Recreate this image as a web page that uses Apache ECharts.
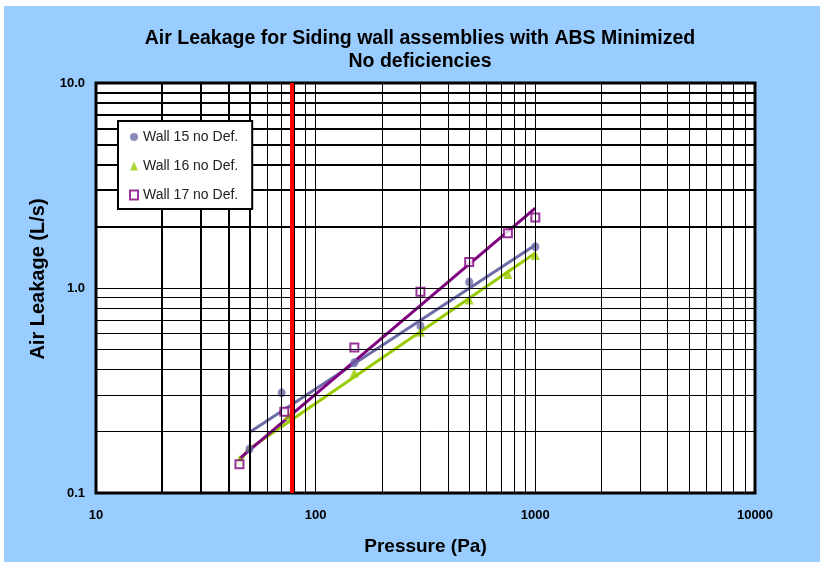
<!DOCTYPE html>
<html>
<head>
<meta charset="utf-8">
<script src="https://cdn.jsdelivr.net/npm/echarts@6/dist/echarts.min.js"></script>
<style>
  body { margin: 0; background: #ffffff; }
  #main { position: absolute; left: 4px; top: 6px; width: 816px; height: 556px; }
</style>
</head>
<body>
<div id="main"></div>
<script>
// measured points (Pa, L/s)
const pressure15 = [50, 70, 150, 300, 500, 1000]
const leak15 = [0.164, 0.308, 0.432, 0.653, 1.07, 1.59]
const pressure16 = [45, 75, 150, 300, 500, 750, 1000]
const leak16 = [0.145, 0.24, 0.386, 0.612, 0.88, 1.17, 1.45]
const pressure17 = [45, 72, 150, 300, 500, 750, 1000]
const leak17 = [0.138, 0.249, 0.512, 0.96, 1.34, 1.85, 2.21]

// trend lines
const fitX15 = [50, 1000]
const fitY15 = [0.198, 1.62]
const fitX16 = [45, 49, 1000]
const fitY16 = [0.142, 0.162, 1.48]
const fitX17 = [45, 1000]
const fitY17 = [0.147, 2.45]

const testPressure = 78

const xTicks = [10, 100, 1000, 10000]
const xGridBold = [20, 30, 40, 50]
const xGrid = [60, 70, 80, 90, 100, 200, 300, 400, 500, 600, 700, 800, 900, 1000,
  2000, 3000, 4000, 5000, 6000, 7000, 8000, 9000]
const yGrid = [0.2, 0.3, 0.4, 0.5, 0.6, 0.7, 0.8, 0.9, 1]
const yGridBold = [2, 3, 4, 5, 6, 7, 8, 9]

const names = ['Wall 15 no Def.', 'Wall 16 no Def.', 'Wall 17 no Def.']
const colors = ['#6c6ca8', '#99cc00', '#800080']

const zip = (xs, ys) => xs.map((x, i) => [x, ys[i]])
const font = 'Liberation Sans, Arial, sans-serif'

function gridLines(name, xs, ys, width) {
  return {
    name: name, type: 'line', data: [], z: 1, silent: true,
    markLine: {
      silent: true, symbol: 'none', label: { show: false },
      lineStyle: { color: '#000', width: width, type: 'solid' },
      data: xs.map(v => ({ xAxis: v })).concat(ys.map(v => ({ yAxis: v })))
    }
  }
}

const chart = echarts.init(document.getElementById('main'))
const option = {
  animation: false,
  backgroundColor: '#99ccff',
  title: {
    text: 'Air Leakage for Siding wall assemblies with ABS Minimized\nNo deficiencies',
    left: 411,
    top: 16,
    textAlign: 'center',
    textStyle: { fontFamily: font, fontSize: 19.5, fontWeight: 'bold', color: '#000', lineHeight: 23 }
  },
  legend: {
    data: names,
    orient: 'vertical',
    left: 114,
    top: 115,
    z: 20,
    backgroundColor: '#fff',
    borderColor: '#000',
    borderWidth: 2,
    borderRadius: 0,
    padding: [9, 14, 7, 11],
    itemWidth: 8,
    itemHeight: 9,
    itemGap: 15,
    itemTextGap: 6,
    textStyle: { fontFamily: font, fontSize: 14, color: '#222', lineHeight: 14 }
  },
  grid: {
    left: 92, top: 77, width: 659, height: 410,
    show: true, backgroundColor: '#fff', borderColor: '#000', borderWidth: 3
  },
  xAxis: {
    type: 'log', logBase: 10, min: 10, max: 10000,
    name: 'Pressure (Pa)', nameLocation: 'middle', nameGap: 44,
    nameTextStyle: { fontFamily: font, fontSize: 19, fontWeight: 'bold', color: '#000' },
    axisLine: { show: false }, axisTick: { show: false }, splitLine: { show: false },
    axisLabel: {
      margin: 16, fontFamily: font, fontSize: 13, fontWeight: 'bold', color: '#000',
      formatter: v => xTicks.includes(Math.round(v)) ? String(Math.round(v)) : ''
    }
  },
  yAxis: {
    type: 'log', logBase: 10, min: 0.1, max: 10,
    name: 'Air Leakage (L/s)', nameLocation: 'middle', nameGap: 45,
    nameTextStyle: { fontFamily: font, fontSize: 20, fontWeight: 'bold', color: '#000', padding: [0, 0, 0, 18] },
    axisLine: { show: false }, axisTick: { show: false }, splitLine: { show: false },
    axisLabel: {
      margin: 11, fontFamily: font, fontSize: 13, fontWeight: 'bold', color: '#000',
      formatter: v => Number(v).toFixed(1)
    }
  },
  series: [
    gridLines('grid', xGrid, yGrid, 1),
    gridLines('gridBold', xGridBold, yGridBold, 2),
    {
      name: 'limit', type: 'line', data: [], z: 2, silent: true,
      markLine: {
        silent: true, symbol: 'none', label: { show: false },
        lineStyle: { color: '#ff0000', width: 4, type: 'solid' },
        data: [{ xAxis: testPressure }]
      }
    },
    {
      name: 'fit15', type: 'line', data: zip(fitX15, fitY15), showSymbol: false, z: 3,
      lineStyle: { color: colors[0], width: 3 }
    },
    {
      name: 'fit16', type: 'line', data: zip(fitX16, fitY16), showSymbol: false, z: 3,
      lineStyle: { color: colors[1], width: 3 }
    },
    {
      name: 'fit17', type: 'line', data: zip(fitX17, fitY17), showSymbol: false, z: 3,
      lineStyle: { color: colors[2], width: 3 }
    },
    {
      name: names[0], type: 'scatter', data: zip(pressure15, leak15), z: 4,
      symbol: 'circle', symbolSize: [8, 9], itemStyle: { color: colors[0] }
    },
    {
      name: names[1], type: 'scatter', data: zip(pressure16, leak16), z: 4,
      symbol: 'triangle', symbolSize: [9, 10], itemStyle: { color: colors[1] }
    },
    {
      name: names[2], type: 'scatter', data: zip(pressure17, leak17), z: 4,
      symbol: 'rect', symbolSize: 8,
      itemStyle: { color: '#fff', borderColor: colors[2], borderWidth: 2 }
    }
  ]
}
chart.setOption(option)
</script>
</body>
</html>
